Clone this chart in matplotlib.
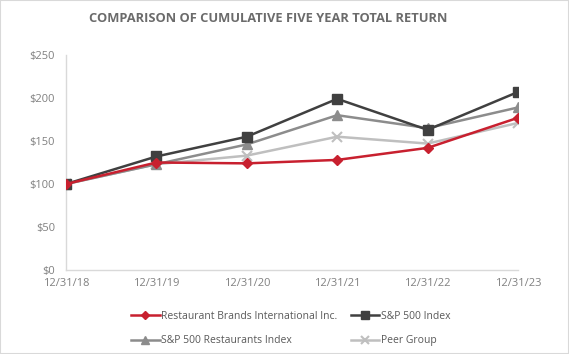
import matplotlib.pyplot as plt
from matplotlib.patches import Rectangle

# data
dates = ["12/31/18", "12/31/19", "12/31/20", "12/31/21", "12/31/22", "12/31/23"]
rbi = [100, 125, 124, 128, 142, 177]
sp500 = [100, 132, 155, 199, 163, 207]
sp_rest = [100, 123, 146, 180, 165, 189]
peer = [100, 123, 133, 155, 147, 171]

plt.rcParams['font.family'] = ['Open Sans', 'DejaVu Sans']

fig = plt.figure(figsize=(5.69, 3.54), dpi=100)
ax = fig.add_axes([66 / 569, 84 / 354, 452 / 569, 215 / 354])

x = range(len(dates))
l1, = ax.plot(x, rbi, color='#C8202F', lw=1.8, marker='D', ms=5, label="Restaurant Brands International Inc.", zorder=5)
l2, = ax.plot(x, sp500, color='#404040', lw=1.8, marker='s', ms=7.5, label="S&P 500 Index", zorder=4)
l3, = ax.plot(x, sp_rest, color='#8C8C8C', lw=1.8, marker='^', ms=7, label="S&P 500 Restaurants Index", zorder=3)
l4, = ax.plot(x, peer, color='#BFBFBF', lw=1.8, marker='x', ms=7, mew=1.5, label="Peer Group", zorder=2)

ax.set_xlim(0, 5)
ax.set_ylim(0, 250)
ax.set_yticks([0, 50, 100, 150, 200, 250])
ax.set_yticklabels(["$0", "$50", "$100", "$150", "$200", "$250"])
ax.set_xticks(list(x))
ax.set_xticklabels(dates)
ax.tick_params(colors='#808080', labelsize=8, length=0, pad=8)
ax.tick_params(axis='x', pad=6)
for s in ['top', 'right']:
    ax.spines[s].set_visible(False)
for s in ['left', 'bottom']:
    ax.spines[s].set_color('#D9D9D9')
    ax.spines[s].set_linewidth(1)

fig.text(0.471, 0.949, "COMPARISON OF CUMULATIVE FIVE YEAR TOTAL RETURN",
         ha='center', va='center', fontsize=9.3, fontweight='bold', color='#6B6B6B')

# row-wise order like the reference
handles = [l1, l3, l2, l4]
fig.legend(handles, [h.get_label() for h in handles], loc='center',
           bbox_to_anchor=(0.511, 0.072), ncol=2, frameon=False,
           fontsize=7.5, labelcolor='#595959', handlelength=2.7, handletextpad=0.15,
           columnspacing=1.3, labelspacing=1.3, markerscale=0.75)

fig.patches.append(Rectangle((0, 0), 1, 1, transform=fig.transFigure,
                             fill=False, edgecolor='#D9D9D9', lw=1.5))

fig.savefig("out.png", dpi=100)
